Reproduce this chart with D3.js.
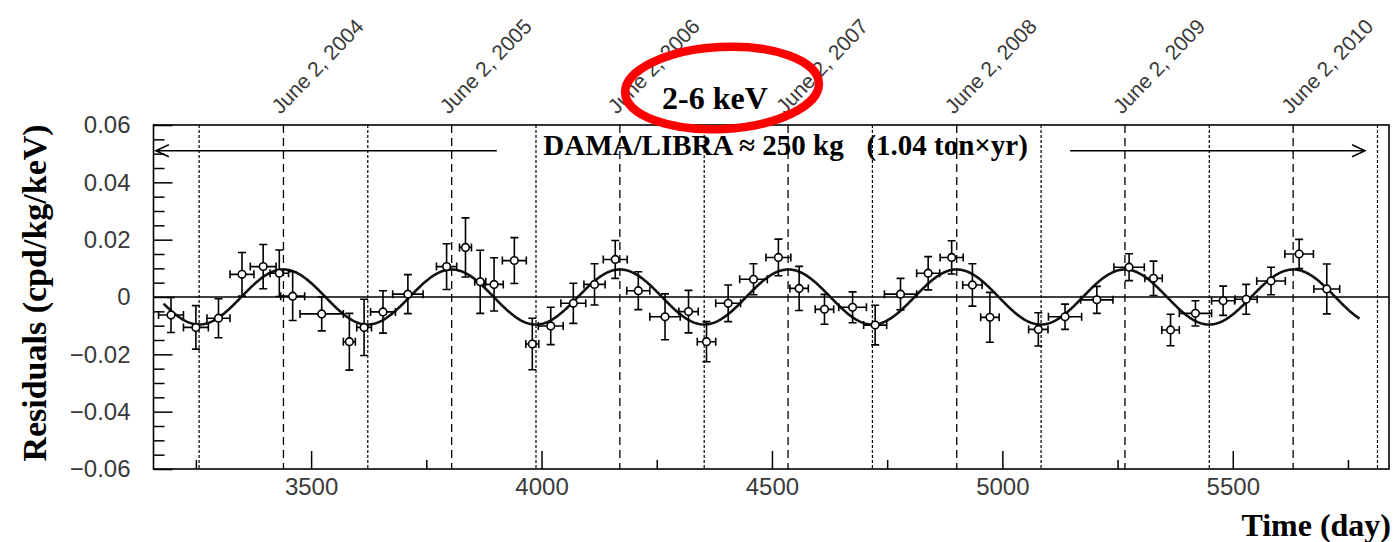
<!DOCTYPE html>
<html>
<head>
<meta charset="utf-8">
<script src="https://cdn.jsdelivr.net/npm/d3@7"></script>
<style>
  body { margin: 0; background: #fff; }
  svg { display: block; }
  .tickLabel { font-family: "Liberation Sans", Arial, sans-serif; font-size: 24px; fill: #3a3a3a; }
  .bigLabel { font-family: "Liberation Serif", "Times New Roman", serif; font-weight: bold; fill: #000; }
</style>
</head>
<body>
<div class="residuals"></div>
<script>
// DAMA/LIBRA 2-6 keV residuals
const days     = [3196, 3250, 3299, 3350, 3396, 3431, 3460, 3523, 3583, 3615, 3656, 3710, 3794, 3835, 3867,
                  3897, 3941, 3980, 4020, 4069, 4115, 4160, 4210, 4268, 4319, 4358, 4405, 4460, 4514, 4559,
                  4614, 4675, 4724, 4779, 4839, 4890, 4935, 4973, 5078, 5136, 5205, 5275, 5328, 5365, 5419,
                  5479, 5529, 5583, 5644, 5704];
const dayErr   = [27, 27, 25, 26, 28, 20, 26, 47, 13, 16, 27, 33, 22, 13, 12,
                  20, 26, 14, 27, 27, 23, 26, 25, 33, 21, 20, 27, 30, 27, 20,
                  20, 30, 25, 35, 25, 25, 21, 20, 21, 36, 35, 33, 19, 19, 35,
                  25, 24, 31, 31, 28];
const resid    = [-0.0063, -0.0106, -0.0074, 0.0079, 0.0106, 0.0083, 0.0003, -0.0059, -0.0156, -0.0106, -0.0052, 0.0010, 0.0106, 0.0173, 0.0053,
                  0.0044, 0.0127, -0.0164, -0.0101, -0.0022, 0.0044, 0.0131, 0.0022, -0.0069, -0.0051, -0.0156, -0.0022, 0.0062, 0.0138, 0.0030,
                  -0.0043, -0.0036, -0.0098, 0.0010, 0.0083, 0.0138, 0.0042, -0.0071, -0.0113, -0.0069, -0.0010, 0.0104, 0.0065, -0.0115, -0.0057,
                  -0.0013, -0.0008, 0.0056, 0.0150, 0.0028];
const residErr = [0.0061, 0.0076, 0.0068, 0.0076, 0.0077, 0.0081, 0.0085, 0.0059, 0.0099, 0.0098, 0.0074, 0.0068, 0.0080, 0.0103, 0.0110,
                  0.0093, 0.0080, 0.0090, 0.0065, 0.0070, 0.0072, 0.0066, 0.0066, 0.0080, 0.0074, 0.0070, 0.0064, 0.0054, 0.0064, 0.0077,
                  0.0052, 0.0054, 0.0069, 0.0055, 0.0058, 0.0058, 0.0074, 0.0087, 0.0058, 0.0044, 0.0047, 0.0047, 0.0060, 0.0055, 0.0044,
                  0.0051, 0.0052, 0.0048, 0.0051, 0.0087];

// june 2 of each year (dashed) and half a year before it (dotted)
const juneDays   = [3440, 3805, 4170, 4535, 4901, 5266, 5631];
const juneLabels = ['June 2, 2004', 'June 2, 2005', 'June 2, 2006', 'June 2, 2007', 'June 2, 2008', 'June 2, 2009', 'June 2, 2010'];
const decDays    = [3257, 3623, 3988, 4353, 4718, 5084, 5449, 5814];

const xTicks      = [3500, 4000, 4500, 5000, 5500];
const xMinorTicks = [3250, 3750, 4250, 4750, 5250, 5750];
const yTicks      = [-0.06, -0.04, -0.02, 0, 0.02, 0.04, 0.06];

// cosine fit A*cos(2pi/T*(t-t0))
const fitA = 0.0096, fitT = 365.25, fitT0 = 152.5, fitStart = 3180, fitEnd = 5775;

const W = 1396, H = 542;
const margin = {top: 125, right: 7, bottom: 73, left: 153.5};
const width = W - margin.left - margin.right;
const height = H - margin.top - margin.bottom;

const x = d3.scaleLinear().domain([3158, 5839]).range([0, width]);
const y = d3.scaleLinear().domain([-0.06, 0.06]).range([height, 0]);

const root = d3.select('.residuals').append('svg')
  .attr('width', W)
  .attr('height', H);

const svg = root.append('g')
  .attr('transform', `translate(${margin.left}, ${margin.top})`);

// vertical reference lines
svg.selectAll('.juneLine')
  .data(juneDays)
  .enter().append('line')
  .attr('x1', d => x(d)).attr('x2', d => x(d))
  .attr('y1', 0).attr('y2', height)
  .attr('stroke', '#000').attr('stroke-width', 1.3)
  .attr('stroke-dasharray', '8,5');

svg.selectAll('.decLine')
  .data(decDays)
  .enter().append('line')
  .attr('x1', d => x(d)).attr('x2', d => x(d))
  .attr('y1', 0).attr('y2', height)
  .attr('stroke', '#000').attr('stroke-width', 1.2)
  .attr('stroke-dasharray', '3,2');

// zero line
svg.append('line')
  .attr('x1', 0).attr('x2', width)
  .attr('y1', y(0)).attr('y2', y(0))
  .attr('stroke', '#000').attr('stroke-width', 1.6);

// axes, ticks drawn inside the frame
const xMinor = svg.append('g').attr('transform', `translate(0, ${height})`)
  .call(d3.axisBottom(x).tickValues(xMinorTicks).tickSize(-9).tickFormat(''));
const xMajor = svg.append('g').attr('transform', `translate(0, ${height})`)
  .call(d3.axisBottom(x).tickValues(xTicks).tickSize(-18).tickPadding(9).tickFormat(d3.format('d')));

const yMinorTicks = d3.range(-0.06, 0.0601, 0.005).filter(v => Math.abs(Math.round(v * 1000) % 20) !== 0);
const yMinor = svg.append('g')
  .call(d3.axisLeft(y).tickValues(yMinorTicks).tickSize(-11).tickFormat(''));
const yMajor = svg.append('g')
  .call(d3.axisLeft(y).tickValues(yTicks).tickSize(-19).tickPadding(23)
    .tickFormat(d => Math.abs(d) < 1e-9 ? '0' : d3.format('.2f')(d).replace('-', '\u2212')));

[xMinor, xMajor, yMinor, yMajor].forEach(g => {
  g.select('.domain').remove();
  g.selectAll('line').attr('stroke', '#000').attr('stroke-width', 1.5);
  g.selectAll('text').attr('class', 'tickLabel').attr('font-size', null).attr('font-family', null).attr('fill', null);
});

// cosine fit curve
const fitDays = d3.range(fitStart, fitEnd, 2).concat([fitEnd]);
const fitLine = d3.line()
  .x(d => x(d))
  .y(d => y(fitA * Math.cos(2 * Math.PI / fitT * (d - fitT0))));

svg.append('path')
  .datum(fitDays)
  .attr('d', fitLine)
  .attr('fill', 'none')
  .attr('stroke', '#111')
  .attr('stroke-width', 2.6);

// data points with error bars
const pts = days.map((d, i) => ({t: d, te: dayErr[i], r: resid[i], re: residErr[i]}));
const cap = 4;

const point = svg.selectAll('.pt')
  .data(pts)
  .enter().append('g')
  .attr('class', 'pt');

point.append('path')
  .attr('fill', 'none')
  .attr('stroke', '#000')
  .attr('stroke-width', 1.6)
  .attr('d', d => {
    const cx = x(d.t), cy = y(d.r);
    const x0 = x(d.t - d.te), x1 = x(d.t + d.te);
    const y0 = y(d.r - d.re), y1 = y(d.r + d.re);
    return `M${x0},${cy}H${x1}` +
      `M${cx},${y0}V${y1}` +
      `M${x0},${cy - cap}V${cy + cap}M${x1},${cy - cap}V${cy + cap}` +
      `M${cx - cap},${y0}H${cx + cap}M${cx - cap},${y1}H${cx + cap}`;
  });

point.append('circle')
  .attr('cx', d => x(d.t))
  .attr('cy', d => y(d.r))
  .attr('r', 3.8)
  .attr('fill', '#fff')
  .attr('stroke', '#000')
  .attr('stroke-width', 1.6);

// frame
svg.append('rect')
  .attr('width', width).attr('height', height)
  .attr('fill', 'none').attr('stroke', '#000').attr('stroke-width', 1.6);

// exposure arrows
const arrowY = y(0.051);
svg.append('path')
  .attr('fill', 'none').attr('stroke', '#000').attr('stroke-width', 1.5)
  .attr('d', `M${x(3163)},${arrowY}H${x(3903)}M${x(3163) + 13},${arrowY - 6}L${x(3163)},${arrowY}L${x(3163) + 13},${arrowY + 6}`);
svg.append('path')
  .attr('fill', 'none').attr('stroke', '#000').attr('stroke-width', 1.5)
  .attr('d', `M${x(5147)},${arrowY}H${x(5787)}M${x(5787) - 13},${arrowY - 6}L${x(5787)},${arrowY}L${x(5787) - 13},${arrowY + 6}`);

svg.append('text')
  .attr('class', 'bigLabel')
  .attr('x', x(4004)).attr('y', 30)
  .style('font-size', '29px')
  .text('DAMA/LIBRA \u2248 250 kg');
svg.append('text')
  .attr('class', 'bigLabel')
  .attr('x', x(4705)).attr('y', 30)
  .style('font-size', '29px')
  .text('(1.04 ton\u00d7yr)');

// rotated june labels above the frame
svg.selectAll('.juneLabel')
  .data(juneDays)
  .enter().append('text')
  .attr('class', 'tickLabel')
  .style('font-size', '21px')
  .attr('transform', d => `translate(${x(d) - 3}, -10) rotate(-46)`)
  .text((d, i) => juneLabels[i]);

// axis titles
root.append('text')
  .attr('class', 'bigLabel')
  .attr('transform', `translate(46, ${margin.top + y(0) - 4}) rotate(-90)`)
  .style('text-anchor', 'middle')
  .style('font-size', '34px')
  .text('Residuals (cpd/kg/keV)');

root.append('text')
  .attr('class', 'bigLabel')
  .attr('x', 1391).attr('y', 536)
  .style('text-anchor', 'end')
  .style('font-size', '32px')
  .text('Time (day)');

// energy window title with the red ring round it
root.append('text')
  .attr('class', 'bigLabel')
  .attr('x', 715).attr('y', 109)
  .style('text-anchor', 'middle')
  .style('font-size', '32px')
  .text('2-6 keV');

root.append('ellipse')
  .attr('cx', 722).attr('cy', 88)
  .attr('rx', 97).attr('ry', 41)
  .attr('transform', 'rotate(-3, 722, 88)')
  .attr('fill', 'none')
  .attr('stroke', '#f00')
  .attr('stroke-width', 8.5);
</script>
</body>
</html>
